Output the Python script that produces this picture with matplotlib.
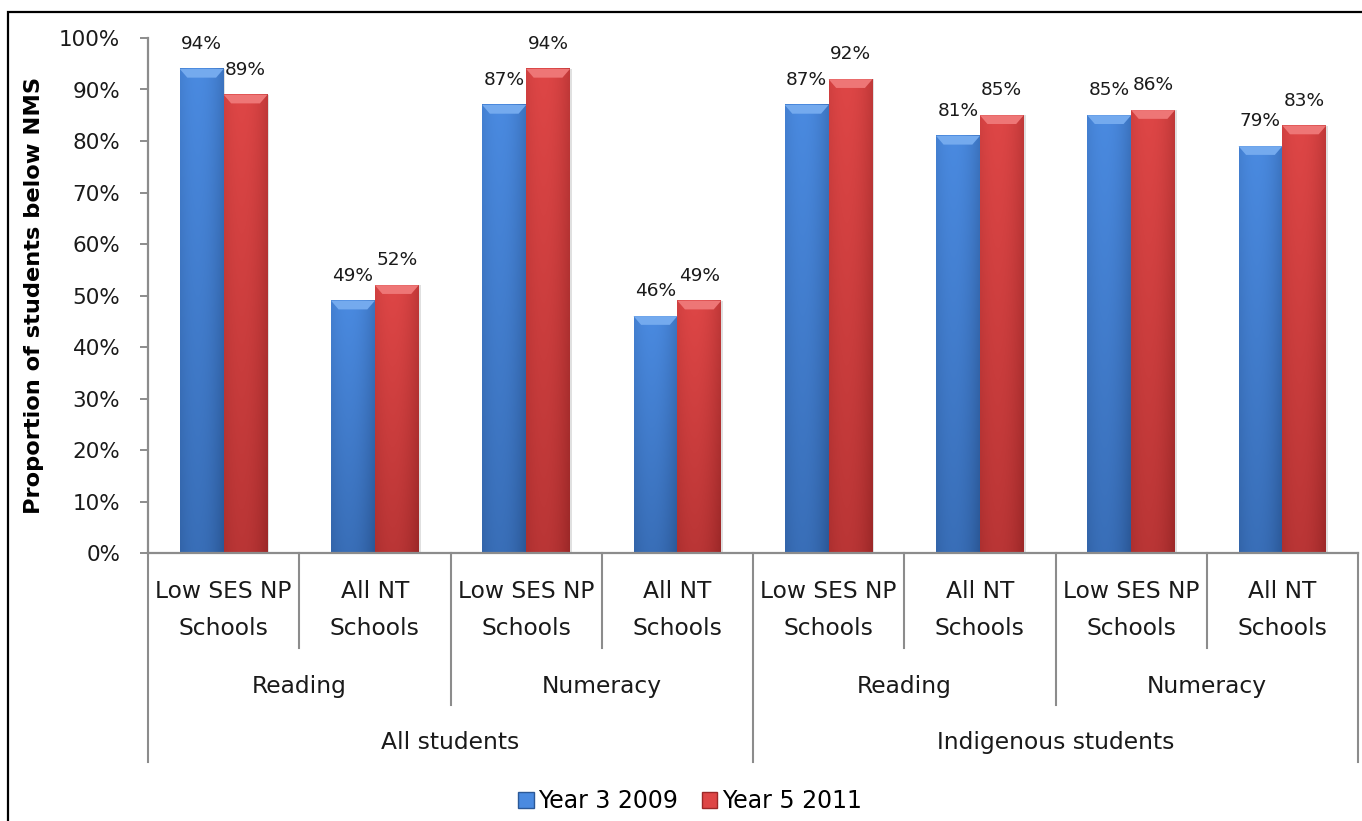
import numpy as np
import matplotlib
matplotlib.use("Agg")
import matplotlib.pyplot as plt
from matplotlib.patches import Patch, Rectangle, Polygon
from matplotlib.colors import to_rgb
from matplotlib.transforms import blended_transform_factory

plt.rcParams['font.family'] = ['DejaVu Sans']

# data
groups = ["All students", "Indigenous students"]
subjects = ["Reading", "Numeracy", "Reading", "Numeracy"]
schools = ["Low SES NP\nSchools", "All NT\nSchools"] * 4
year3_2009 = [94, 49, 87, 46, 87, 81, 85, 79]
year5_2011 = [89, 52, 94, 49, 92, 85, 86, 83]
series_names = ["Year 3 2009", "Year 5 2011"]

W, H = 1362, 821


def fy(py):
    # pixel row -> figure fraction
    return 1 - py / H


fig = plt.figure(figsize=(W / 100, H / 100), dpi=100)
ax = fig.add_axes([148 / W, fy(553), (1358 - 148) / W, (553 - 38) / H])

blue = dict(light="#4a8ae0", dark="#2b5897", top="#74aaee")
red = dict(light="#de4646", dark="#9c2828", top="#ee7676")

bar_w = 0.29


def shaded_bar(x0, h, pal):
    """bar filled with a soft gradient plus a lighter bevel on top"""
    nx, ny = 40, 120
    u = np.linspace(0, 1, nx)[None, :]
    v = np.linspace(0, 1, ny)[:, None]
    horiz = np.clip(1 - ((u - 0.4) / 0.6) ** 2, 0, 1)
    f = 0.55 * v + 0.45 * horiz
    lo = np.array(to_rgb(pal["dark"]))
    hi = np.array(to_rgb(pal["light"]))
    img = lo + (hi - lo) * f[..., None]
    ax.imshow(img, extent=[x0, x0 + bar_w, 0, h], origin="lower",
              aspect="auto", interpolation="bicubic", zorder=2)
    # faint shadow on the right
    ax.add_patch(Rectangle((x0 + bar_w, 0), 0.012, h, color="#000000",
                           alpha=0.12, lw=0, zorder=1.5))
    d, e = 0.05, 1.7
    top = Polygon([(x0, h), (x0 + bar_w, h), (x0 + bar_w - d, h - e),
                   (x0 + d, h - e)], closed=True, fc=pal["top"], ec="none",
                  zorder=3)
    ax.add_patch(top)


for i, (a, b) in enumerate(zip(year3_2009, year5_2011)):
    xc = i + 0.5
    shaded_bar(xc - bar_w, a, blue)
    shaded_bar(xc, b, red)
    ax.annotate(f"{a}%", (xc - bar_w / 2, a), xytext=(0, 18),
                textcoords="offset points", ha="center", va="center",
                fontsize=13.3, color="#1a1a1a")
    ax.annotate(f"{b}%", (xc + bar_w / 2, b), xytext=(0, 18),
                textcoords="offset points", ha="center", va="center",
                fontsize=13.3, color="#1a1a1a")

ax.set_xlim(0, 8)
ax.set_ylim(0, 100)
ax.set_yticks(np.arange(0, 101, 10))
ax.set_yticklabels([f"{t}%" for t in range(0, 101, 10)], fontsize=15.5)
ax.set_xticks([])
for s in ["top", "right"]:
    ax.spines[s].set_visible(False)
for s in ["left", "bottom"]:
    ax.spines[s].set_color("#8c8c8c")
    ax.spines[s].set_linewidth(1.6)
ax.tick_params(axis="y", direction="out", length=6, width=1.4,
               color="#8c8c8c", pad=14, labelcolor="#1a1a1a")
ax.set_ylabel("Proportion of students below NMS", fontsize=16.2,
              fontweight="bold")
ax.yaxis.set_label_coords(-0.086, 0.5)

# multi-level category axis
tr = blended_transform_factory(ax.transData, fig.transFigure)
line_kw = dict(color="#8c8c8c", lw=1.5, transform=tr, clip_on=False)
for k in range(9):
    if k % 4 == 0:
        end = 762
    elif k % 2 == 0:
        end = 705
    else:
        end = 648
    fig.add_artist(plt.Line2D([k, k], [fy(553), fy(end)], **line_kw))

for i, lab in enumerate(schools):
    ax.text(i + 0.5, fy(610), lab, transform=tr, ha="center", va="center",
            fontsize=16.8, linespacing=1.75, color="#1a1a1a")
for j, lab in enumerate(subjects):
    ax.text(2 * j + 1, fy(686), lab, transform=tr, ha="center",
            va="center", fontsize=16.8, color="#1a1a1a")
for g, lab in enumerate(groups):
    ax.text(4 * g + 2, fy(742), lab, transform=tr, ha="center",
            va="center", fontsize=16.8, color="#1a1a1a")

handles = [Patch(facecolor=blue["light"], edgecolor=blue["dark"]),
           Patch(facecolor=red["light"], edgecolor=red["dark"])]
fig.legend(handles, series_names, loc="center",
           bbox_to_anchor=(690 / W, fy(801)), ncol=2, frameon=False,
           fontsize=17, handlelength=0.65, handleheight=0.65,
           handletextpad=0.2, columnspacing=1.0)

# outer chart frame
fig.add_artist(Rectangle((8 / W, -0.1), 1.2, fy(12) + 0.1,
                         transform=fig.transFigure, fill=False,
                         ec="black", lw=1.6))

fig.savefig("out.png", dpi=100)
